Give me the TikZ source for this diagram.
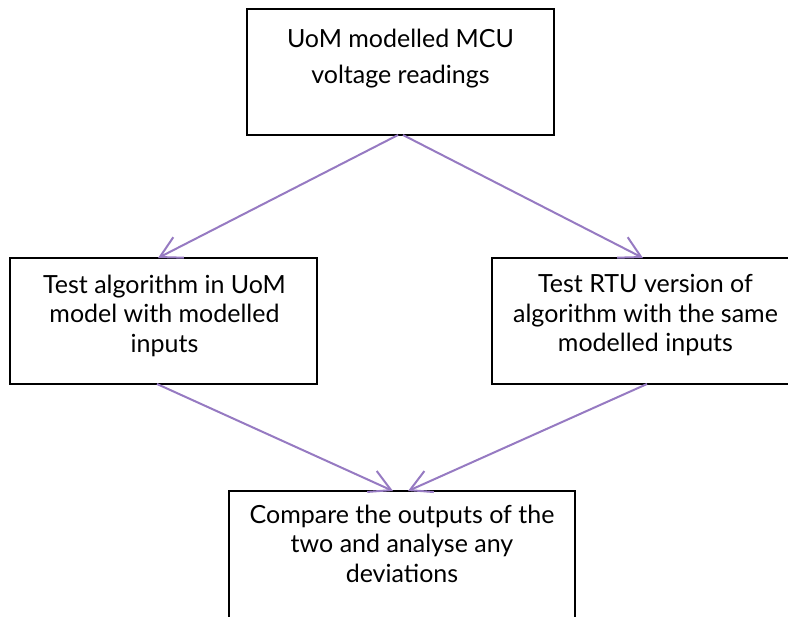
\documentclass[tikz,border=0pt]{standalone}
\usepackage{fontspec}
\setmainfont{Lato}
\usetikzlibrary{arrows.meta,calc}

\definecolor{flowpurple}{RGB}{150,122,194}

\tikzset{
  box/.style={draw=black, line width=1.8pt, rectangle, inner sep=0pt, outer sep=0pt},
  boxtext/.style={align=center, inner sep=0pt, anchor=north,
    font={\fontsize{25}{29.5}\selectfont}},
  flow/.style={draw=flowpurple, line width=2pt,
    -{Straight Barb[length=21pt,width=23pt,line width=2pt]}},
}

\begin{document}
\begin{tikzpicture}[x=1pt,y=-1pt]
  \useasboundingbox (0,0) rectangle (788,617);
  \clip (0,0) rectangle (788,617);

  % boxes
  \node[box, minimum width=307pt, minimum height=126pt] (src) at (400.5,72) {};
  \node[box, minimum width=307pt, minimum height=126pt] (uom) at (163.5,321) {};
  \node[box, minimum width=307pt, minimum height=126pt] (rtu) at (645.5,321) {};
  \node[box, minimum width=346pt, minimum height=160pt] (cmp) at (402,571) {};

  % box texts
  \node[boxtext, font={\fontsize{25}{36}\selectfont}] (srcText) at (400.5,28.5)
    {UoM modelled MCU\\voltage readings};
  \node[boxtext] (uomText) at (164.5,274.5)
    {Test algorithm in UoM\\model with modelled\\inputs};
  \node[boxtext] (rtuText) at (645.5,274.5)
    {Test RTU version of\\algorithm with the same\\modelled inputs};
  \node[boxtext] (cmpText) at (402,504.5)
    {Compare the outputs of the\\two and analyse any\\deviations};

  % connectors
  \draw[flow] ([xshift=-2.5pt]src.south) -- ([xshift=-5.5pt]uom.north);
  \draw[flow] ([xshift=2.5pt]src.south) -- ([xshift=-2.5pt]rtu.north);
  \draw[flow] ([xshift=-6.5pt]uom.south) -- ([xshift=-9pt]cmp.north);
  \draw[flow] ([xshift=1.5pt]rtu.south) -- ([xshift=6pt]cmp.north);
\end{tikzpicture}
\end{document}
